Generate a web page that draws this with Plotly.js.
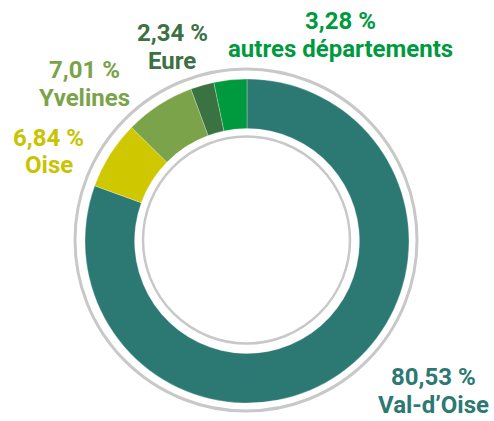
<!DOCTYPE html>
<html>
<head>
<meta charset="utf-8">
<script src="https://cdn.plot.ly/plotly-3.0.1.min.js"></script>
<style>html,body{margin:0;padding:0;background:#fff;}#chart{width:494px;height:421px;}</style>
</head>
<body>
<div id="chart"></div>
<script>
// Data
var labels = ["Val-d\u2019Oise", "Oise", "Yvelines", "Eure", "autres départements"];
var values = [80.53, 6.84, 7.01, 2.34, 3.28];
var sliceColors = ["#2b7972", "#cfc800", "#7aa34a", "#3a7341", "#009a3e"];
var textColors = ["#2b7972", "#c9c300", "#7aa34a", "#3d7042", "#009a3e"];

var W = 494, H = 421;
function px(x){ return x / W; }
function py(y){ return 1 - y / H; }

// label anchor positions (pixel centres of the two text lines)
var labelPos = [
  {x: 433, y1: 377, y2: 405},
  {x: 48.5, y1: 138, y2: 165},
  {x: 84, y1: 70, y2: 97.5},
  {x: 172, y1: 33, y2: 60.5},
  {x: 340, y1: 21, y2: 48.5}
];

function fmt(v){ return v.toFixed(2).replace('.', ',') + ' %'; }

var fontFam = 'Roboto, "Liberation Sans", sans-serif';
var annotations = [];
for (var i = 0; i < labels.length; i++) {
  var p = labelPos[i];
  annotations.push({
    xref: 'paper', yref: 'paper', x: px(p.x), y: py(p.y1),
    xanchor: 'center', yanchor: 'middle', showarrow: false,
    text: '<b>' + fmt(values[i]) + '</b>',
    font: {family: fontFam, size: 24, color: textColors[i]}
  });
  annotations.push({
    xref: 'paper', yref: 'paper', x: px(p.x), y: py(p.y2),
    xanchor: 'center', yanchor: 'middle', showarrow: false,
    text: '<b>' + labels[i] + '</b>',
    font: {family: fontFam, size: 24, color: textColors[i]}
  });
}

var trace = {
  type: 'pie',
  values: values,
  labels: labels,
  sort: false,
  direction: 'clockwise',
  rotation: 0,
  hole: 0.694,
  textinfo: 'none',
  hoverinfo: 'label+value',
  marker: {colors: sliceColors, line: {color: 'rgba(255,255,255,0.45)', width: 0.6}},
  domain: {x: [px(85), px(409)], y: [py(403), py(79)]},
  showlegend: false
};

var shapes = [
  {type: 'circle', xref: 'paper', yref: 'paper',
   x0: px(246 - 171), x1: px(246 + 171), y0: py(240 + 171), y1: py(240 - 171),
   line: {color: '#c8c8c8', width: 3}, fillcolor: 'rgba(0,0,0,0)'},
  {type: 'circle', xref: 'paper', yref: 'paper',
   x0: px(246.5 - 103.5), x1: px(246.5 + 103.5), y0: py(240 + 103.5), y1: py(240 - 103.5),
   line: {color: '#c8c8c8', width: 2.5}, fillcolor: 'rgba(0,0,0,0)'}
];

var layout = {
  width: W, height: H,
  margin: {l: 0, r: 0, t: 0, b: 0},
  paper_bgcolor: '#ffffff',
  plot_bgcolor: '#ffffff',
  annotations: annotations,
  shapes: shapes,
  showlegend: false
};

Plotly.newPlot('chart', [trace], layout, {displayModeBar: false, staticPlot: true});
</script>
</body>
</html>
